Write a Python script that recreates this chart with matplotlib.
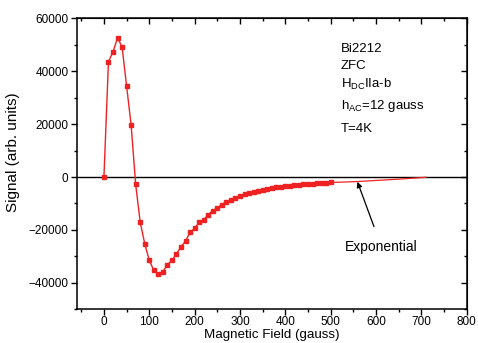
import matplotlib
matplotlib.use("Agg")
import matplotlib.pyplot as plt
import numpy as np
from matplotlib.ticker import MultipleLocator

plt.rcParams['font.family'] = ['Liberation Sans', 'DejaVu Sans']
plt.rcParams['mathtext.fontset'] = 'custom'
plt.rcParams['mathtext.rm'] = 'Liberation Sans'

# Measured AC susceptibility signal vs DC field
field = [0, 10, 20, 30, 40, 50, 60, 70, 80, 90, 100, 110, 120, 130, 140, 150,
         160, 170, 180, 190, 200, 210, 220, 230, 240, 250, 260, 270, 280, 290,
         300, 310, 320, 330, 340, 350, 360, 370, 380, 390, 400, 410, 420, 430,
         440, 450, 460, 470, 480, 490, 500]
signal = [0, 43600, 47300, 52600, 49200, 34400, 19600, -2800, -17100, -25200,
          -31500, -35300, -36700, -35800, -33100, -31500, -29000, -26400, -24200,
          -20900, -19400, -17100, -16100, -14200, -12700, -11700, -10400, -9400,
          -8500, -7900, -7300, -6600, -6000, -5500, -5100, -4800, -4500, -4200,
          -3900, -3700, -3500, -3300, -3100, -2900, -2800, -2600, -2500, -2400,
          -2300, -2200, -2050]

# Exponential tail beyond the measured range
exp_field = [500, 530, 560, 600, 650, 710]
exp_signal = [-2050, -1900, -1700, -1300, -800, -100]

fig = plt.figure(figsize=(4.78, 3.43), dpi=100)
ax = fig.add_axes([0.1605, 0.0983, 0.9764 - 0.1605, 0.9466 - 0.0983])

red = '#ee2222'
ax.axhline(0, color='black', lw=1.0, zorder=1)
ax.plot(field, signal, color=red, lw=1.0, marker='s', ms=3.4, mec=red,
        mfc=red, zorder=3)
ax.plot(exp_field, exp_signal, color=red, lw=0.9, zorder=2)

ax.set_xlim(-60, 800)
ax.set_ylim(-50000, 60000)
ax.xaxis.set_major_locator(MultipleLocator(100))
ax.xaxis.set_minor_locator(MultipleLocator(50))
ax.yaxis.set_major_locator(MultipleLocator(20000))
ax.yaxis.set_minor_locator(MultipleLocator(10000))
ax.tick_params(which='major', direction='out', length=4, width=1,
               labelsize=8.5, pad=2)
ax.tick_params(which='minor', direction='out', length=2.5, width=1)
ax.tick_params(axis='x', which='major', pad=1)
for s in ax.spines.values():
    s.set_linewidth(1.1)

top = ax.secondary_xaxis('top')
top.xaxis.set_major_locator(MultipleLocator(100))
top.xaxis.set_minor_locator(MultipleLocator(50))
top.tick_params(which='major', direction='in', length=4, width=1,
                labeltop=False)
top.tick_params(which='minor', direction='in', length=2.5, width=1)
right = ax.secondary_yaxis('right')
right.yaxis.set_major_locator(MultipleLocator(20000))
right.yaxis.set_minor_locator(MultipleLocator(10000))
right.tick_params(which='major', direction='in', length=4, width=1,
                  labelright=False)
right.tick_params(which='minor', direction='in', length=2.5, width=1)

ax.set_xlabel('Magnetic Field (gauss)', fontsize=9.6)
ax.xaxis.set_label_coords(0.5, -0.068)
ax.set_ylabel('Signal (arb. units)', fontsize=11)
ax.yaxis.set_label_coords(-0.145, 0.54)

lines = ['Bi2212', 'ZFC', r'H$_{\mathrm{DC}}$IIa-b',
         r'h$_{\mathrm{AC}}$=12 gauss', 'T=4K']
ypos = [48300, 41800, 35000, 27000, 18300]
for t, yv in zip(lines, ypos):
    ax.text(522, yv, t, fontsize=9.5, va='center', ha='left')

ax.annotate('Exponential', xy=(559, -1800), xytext=(612, -26400),
            fontsize=10, ha='center', va='center',
            arrowprops=dict(arrowstyle='-|>', color='black', lw=0.9,
                            mutation_scale=8, shrinkA=8, shrinkB=0))

fig.savefig('out.png', dpi=100)
